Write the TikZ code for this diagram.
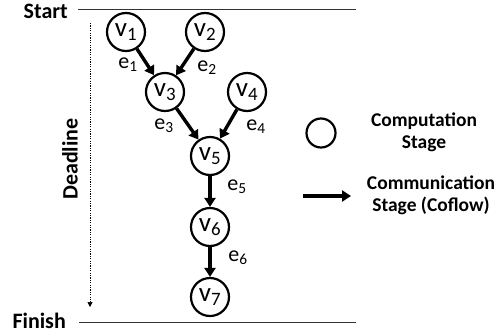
\documentclass[tikz,border=0pt]{standalone}
\usepackage{fontspec}
\setmainfont{Carlito}
\usetikzlibrary{arrows.meta}
\begin{document}
\begin{tikzpicture}[x=1pt,y=-1pt,
  stage/.style={circle,draw,line width=2.2pt,minimum size=38pt,inner sep=0pt,font=\fontsize{27}{29}\selectfont},
  flow/.style={line width=3.4pt,-{Triangle[length=9pt,width=11pt]}},
  elabel/.style={font=\fontsize{22}{24}\selectfont,inner sep=0pt},
  boldlabel/.style={font=\fontsize{22}{24}\selectfont\bfseries,inner sep=0pt},
  legendtext/.style={font=\fontsize{19.5}{22}\selectfont\bfseries,align=center,inner sep=0pt},
  timeline/.style={line width=0.8pt,draw=black!80}]
\useasboundingbox (0,0) rectangle (503,335);
% timelines
\node[boldlabel,anchor=east] (start) at (68,11) {Start};
\node[boldlabel,anchor=east] (finish) at (66,321) {Finish};
\coordinate (sl0) at (78,9);
\coordinate (sl1) at (356,9);
\coordinate (fl0) at (79,322);
\coordinate (fl1) at (356,322);
\draw[timeline] (sl0) -- (sl1);
\draw[timeline] (fl0) -- (fl1);
% deadline
\node[boldlabel,rotate=90] (dl) at (70,159) {Deadline};
\coordinate (da0) at (90,23);
\coordinate (da1) at (90,307);
\draw[line width=0.7pt,dash pattern=on 1.2pt off 1.2pt,-{Triangle[length=5pt,width=5pt]}] (da0) -- (da1);
% nodes
\node[stage] (v1) at (126,32) {v\textsubscript{1}};
\node[stage] (v2) at (205,32) {v\textsubscript{2}};
\node[stage] (v3) at (165,92) {v\textsubscript{3}};
\node[stage] (v4) at (247,92) {v\textsubscript{4}};
\node[stage] (v5) at (210,156) {v\textsubscript{5}};
\node[stage] (v6) at (210,227) {v\textsubscript{6}};
\node[stage] (v7) at (210,297) {v\textsubscript{7}};
% edges
\draw[flow] (v1) -- (v3);
\draw[flow] (v2) -- (v3);
\draw[flow] (v3) -- (v5);
\draw[flow] (v4) -- (v5);
\draw[flow] (v5) -- (v6);
\draw[flow] (v6) -- (v7);
\node[elabel] (e1) at (128,65) {e\textsubscript{1}};
\node[elabel] (e2) at (207,68) {e\textsubscript{2}};
\node[elabel] (e3) at (164,126) {e\textsubscript{3}};
\node[elabel] (e4) at (256,127) {e\textsubscript{4}};
\node[elabel] (e5) at (237,187) {e\textsubscript{5}};
\node[elabel] (e6) at (238,258) {e\textsubscript{6}};
% legend
\node[circle,draw,line width=2.2pt,minimum size=29pt,inner sep=0pt] (lc) at (321,133) {};
\node[legendtext] (lt1) at (424,132) {Computation\\Stage};
\coordinate (la0) at (303,196);
\coordinate (la1) at (351,196);
\draw[flow] (la0) -- (la1);
\node[legendtext] (lt2) at (431,195) {Communication\\Stage (Coflow)};
\end{tikzpicture}
\end{document}
